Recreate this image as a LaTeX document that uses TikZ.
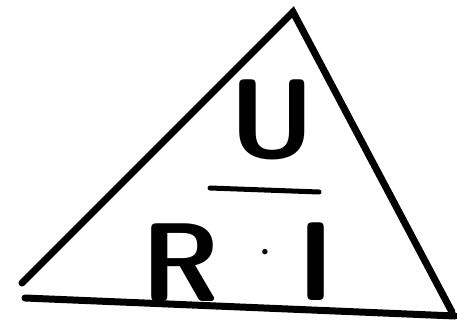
\documentclass[tikz,border=0pt]{standalone}
\usepackage{tikz}
\usetikzlibrary{arrows.meta}

\begin{document}
\begin{tikzpicture}[x=1pt, y=-1pt, every node/.style={font=\fontsize{112}{112}\selectfont\sffamily\bfseries, inner sep=0pt}, edge/.style={line width=7pt, line cap=round}]
	\useasboundingbox (0,0) rectangle (457,334);
	\coordinate (top) at (293,12);
	\coordinate (left) at (22,283);
	\coordinate (right) at (452,312);
	\coordinate (bl) at (25,298);
	\coordinate (br) at (455,316);
	\draw[edge] (left) -- (top) -- (right);
	\draw[edge] (bl) -- (br);
	\node[anchor=base] (u) at (272,157) {U};
	\coordinate (fl) at (210,188);
	\coordinate (fr) at (319,192);
	\draw[line width=5pt, line cap=round] (fl) -- (fr);
	\node[anchor=base] (r) at (181,301) {R};
	\node[font=\fontsize{24}{24}\selectfont] (dot) at (265,254) {\textbullet};
	\node[anchor=base] (i) at (316,300) {I};
\end{tikzpicture}
\end{document}
